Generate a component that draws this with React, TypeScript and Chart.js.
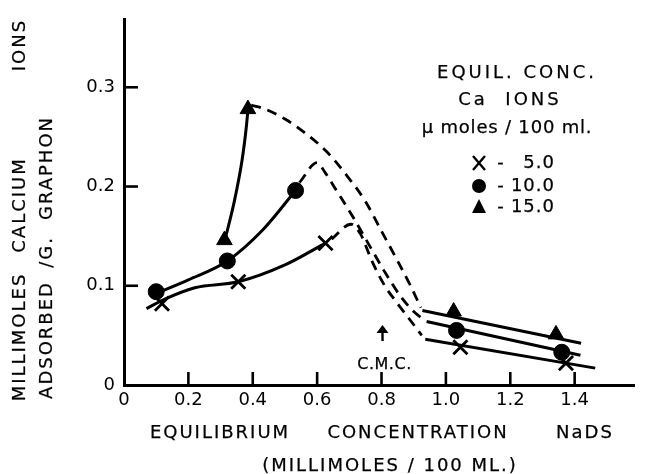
import React, { useEffect, useRef } from 'react';
import { Chart, registerables } from 'chart.js';

Chart.register(...registerables);

// ---- data ----
const xTickValues = [0, 0.2, 0.4, 0.6, 0.8, 1.0, 1.2, 1.4];
const yTickValues = [0, 0.1, 0.2, 0.3];

// measured points, 5.0 / 10.0 / 15.0 umoles Ca per 100 ml
const crossX = [0.118, 0.355, 0.626, 1.045, 1.373];
const crossY = [0.082, 0.104, 0.143, 0.038, 0.022];
const circleX = [0.1, 0.321, 0.533, 1.033, 1.36];
const circleY = [0.094, 0.125, 0.196, 0.055, 0.033];
const triX = [0.312, 0.385, 1.024, 1.342];
const triY = [0.146, 0.278, 0.074, 0.051];

// drawn curves (solid, below CMC)
const crossCurveX = [0.07, 0.13, 0.22, 0.355, 0.5, 0.626];
const crossCurveY = [0.077, 0.087, 0.098, 0.104, 0.121, 0.143];
const circleCurveX = [0.09, 0.2, 0.321, 0.433, 0.533];
const circleCurveY = [0.091, 0.106, 0.125, 0.157, 0.196];
const triCurveX = [0.315, 0.342, 0.367, 0.38, 0.385];
const triCurveY = [0.148, 0.184, 0.227, 0.26, 0.277];

// dashed transitions
const crossDashX = [0.645, 0.705, 0.735, 0.77, 0.81, 0.85, 0.89, 0.925];
const crossDashY = [0.147, 0.162, 0.152, 0.125, 0.1, 0.082, 0.065, 0.05];
const circleDashX = [0.545, 0.6, 0.625, 0.66, 0.71, 0.76, 0.81, 0.86, 0.9, 0.93];
const circleDashY = [0.204, 0.224, 0.214, 0.196, 0.17, 0.142, 0.114, 0.089, 0.074, 0.066];
const triDashX = [0.395, 0.43, 0.5, 0.57, 0.63, 0.69, 0.75, 0.8, 0.85, 0.89, 0.922];
const triDashY = [0.282, 0.279, 0.268, 0.252, 0.235, 0.212, 0.185, 0.155, 0.125, 0.1, 0.078];

// straight lines above CMC
const crossLineX = [0.936, 1.464];
const crossLineY = [0.046, 0.017];
const circleLineX = [0.94, 1.418];
const circleLineY = [0.064, 0.03];
const triLineX = [0.927, 1.42];
const triLineY = [0.075, 0.042];

const legendTitle = ['EQUIL. CONC.', 'Ca  IONS', 'µ moles / 100 ml.'];
const legendValues = ['5.0', '10.0', '15.0'];
const yTitleLine1 = ['MILLIMOLES', 'CALCIUM', 'IONS'];
const yTitleLine2 = ['ADSORBED', '/G.', 'GRAPHON'];
const xTitleLine1 = ['EQUILIBRIUM', 'CONCENTRATION', 'NaDS'];
const xTitleLine2 = '(MILLIMOLES / 100 ML.)';
const cmcLabel = 'C.M.C.';
const cmcX = 0.8;

const zip = (xs: number[], ys: number[]) => xs.map((x, i) => ({ x, y: ys[i] }));
const FONT = '"DejaVu Sans", sans-serif';

const tickFmt = (v: number) => (v === 0 ? '0' : v.toFixed(1));

const decorPlugin = {
  id: 'decor',
  afterDraw(chart: any) {
    const ctx = chart.ctx as CanvasRenderingContext2D;
    const xs = chart.scales.x;
    const ys = chart.scales.y;
    const area = chart.chartArea;
    ctx.save();
    ctx.strokeStyle = '#000';
    ctx.fillStyle = '#000';
    // inward ticks
    ctx.lineWidth = 2.6;
    xTickValues.forEach((v) => {
      if (v === 0) return;
      const px = xs.getPixelForValue(v);
      ctx.beginPath();
      ctx.moveTo(px, area.bottom);
      ctx.lineTo(px, area.bottom - 13);
      ctx.stroke();
    });
    yTickValues.forEach((v) => {
      if (v === 0) return;
      const py = ys.getPixelForValue(v);
      ctx.beginPath();
      ctx.moveTo(area.left, py);
      ctx.lineTo(area.left + 14, py);
      ctx.stroke();
    });

    const setFont = (size: number, spacing: number) => {
      ctx.font = `${size}px ${FONT}`;
      (ctx as any).letterSpacing = `${spacing}px`;
    };
    const txt = (s: string, x: number, y: number) => {
      ctx.lineWidth = 0.25;
      ctx.fillText(s, x, y);
      ctx.strokeText(s, x, y);
    };
    ctx.textAlign = 'center';
    ctx.textBaseline = 'middle';

    // y title (rotated)
    const yl1 = [337, 205, 45];
    const yl2 = [340, 252, 168];
    setFont(18, 2);
    ctx.save();
    ctx.translate(20, 0);
    ctx.rotate(-Math.PI / 2);
    yTitleLine1.forEach((w, i) => txt(w, -yl1[i], 0));
    ctx.restore();
    ctx.save();
    ctx.translate(47, 0);
    ctx.rotate(-Math.PI / 2);
    yTitleLine2.forEach((w, i) => txt(w, -yl2[i], 0));
    ctx.restore();

    // x title
    const xl1 = [220, 418, 585];
    xTitleLine1.forEach((w, i) => txt(w, xl1[i], 433));
    txt(xTitleLine2, 390, 466);

    // legend
    const ly = [73, 100, 128];
    const lx = [517, 510, 507];
    const lsp = [3, 3, 0.8];
    legendTitle.forEach((t, i) => {
      setFont(18, lsp[i]);
      txt(t, lx[i], ly[i]);
    });
    const ry = [163, 186, 207];
    setFont(18, 1);
    legendValues.forEach((v, i) => {
      ctx.textAlign = 'center';
      txt('-', 501, ry[i]);
      ctx.textAlign = 'right';
      txt(v, 555, ry[i]);
    });
    // legend symbols
    const sx = 479;
    ctx.lineWidth = 2.4;
    ctx.beginPath();
    ctx.moveTo(sx - 6, ry[0] - 7);
    ctx.lineTo(sx + 6, ry[0] + 7);
    ctx.moveTo(sx + 6, ry[0] - 7);
    ctx.lineTo(sx - 6, ry[0] + 7);
    ctx.stroke();
    ctx.beginPath();
    ctx.arc(sx, ry[1], 7, 0, Math.PI * 2);
    ctx.fill();
    ctx.beginPath();
    ctx.moveTo(sx, ry[2] - 8);
    ctx.lineTo(sx + 7, ry[2] + 6);
    ctx.lineTo(sx - 7, ry[2] + 6);
    ctx.closePath();
    ctx.fill();

    // CMC arrow + label
    const cx = xs.getPixelForValue(cmcX) + 1;
    ctx.lineWidth = 2.4;
    ctx.beginPath();
    ctx.moveTo(cx, 329);
    ctx.lineTo(cx, 341);
    ctx.stroke();
    ctx.beginPath();
    ctx.moveTo(cx, 325);
    ctx.lineTo(cx + 6, 333);
    ctx.lineTo(cx - 6, 333);
    ctx.closePath();
    ctx.fill();
    setFont(16, 0.5);
    ctx.textAlign = 'center';
    txt(cmcLabel, cx + 2, 365);
    ctx.restore();
  },
};

export default function App() {
  const ref = useRef<HTMLCanvasElement>(null);
  useEffect(() => {
    if (!ref.current) return;
    const curve = (xs: number[], ys: number[], dashed: boolean, mono: boolean) => ({
      type: 'scatter' as const,
      data: zip(xs, ys),
      showLine: true,
      borderColor: '#000',
      borderWidth: dashed ? 2.8 : 3,
      borderDash: dashed ? [10, 7] : [],
      tension: mono ? 0.4 : 0,
      cubicInterpolationMode: mono ? 'monotone' : 'default',
      pointRadius: 0,
      pointHoverRadius: 0,
      fill: false,
    });
    const marks = (xs: number[], ys: number[], style: string, r: number) => ({
      type: 'scatter' as const,
      data: zip(xs, ys),
      showLine: false,
      pointStyle: style,
      pointRadius: r,
      pointBackgroundColor: '#000',
      pointBorderColor: '#000',
      pointBorderWidth: style === 'crossRot' ? 2.8 : 1,
    });
    const chart = new Chart(ref.current, {
      type: 'scatter',
      data: {
        datasets: [
          marks(crossX, crossY, 'crossRot', 10),
          marks(circleX, circleY, 'circle', 8),
          marks(triX, triY, 'triangle', 9),
          curve(crossCurveX, crossCurveY, false, true),
          curve(circleCurveX, circleCurveY, false, true),
          curve(triCurveX, triCurveY, false, true),
          curve(crossDashX, crossDashY, true, true),
          curve(circleDashX, circleDashY, true, true),
          curve(triDashX, triDashY, true, true),
          curve(crossLineX, crossLineY, false, false),
          curve(circleLineX, circleLineY, false, false),
          curve(triLineX, triLineY, false, false),
        ] as any,
      },
      options: {
        responsive: false,
        animation: false,
        events: [],
        layout: { padding: { top: 15, right: 0, left: 0, bottom: 0 } },
        plugins: { legend: { display: false }, tooltip: { enabled: false } },
        scales: {
          x: {
            type: 'linear',
            min: 0,
            max: 1.585,
            afterFit: (s: any) => { s.height = 89; },
            afterBuildTicks: (s: any) => { s.ticks = xTickValues.map((v) => ({ value: v })); },
            ticks: {
              callback: (v: any) => tickFmt(Number(v)),
              color: '#000',
              font: { family: FONT, size: 18 },
              padding: 5,
              maxRotation: 0,
              autoSkip: false,
            },
            grid: { display: false, drawTicks: false },
            border: { display: true, color: '#000', width: 3 },
          },
          y: {
            type: 'linear',
            min: 0,
            max: 0.368,
            afterFit: (s: any) => { s.width = 124; },
            afterBuildTicks: (s: any) => { s.ticks = yTickValues.map((v) => ({ value: v })); },
            ticks: {
              callback: (v: any) => tickFmt(Number(v)),
              color: '#000',
              font: { family: FONT, size: 18 },
              padding: 9,
              autoSkip: false,
            },
            grid: { display: false, drawTicks: false },
            border: { display: true, color: '#000', width: 3 },
          },
        },
      } as any,
      plugins: [decorPlugin],
    });
    return () => chart.destroy();
  }, []);
  return (
    <div style={{ position: 'fixed', left: 0, top: 0, width: 647, height: 474, background: '#fff' }}>
      <canvas ref={ref} width={647} height={474} style={{ display: 'block' }} />
    </div>
  );
}
